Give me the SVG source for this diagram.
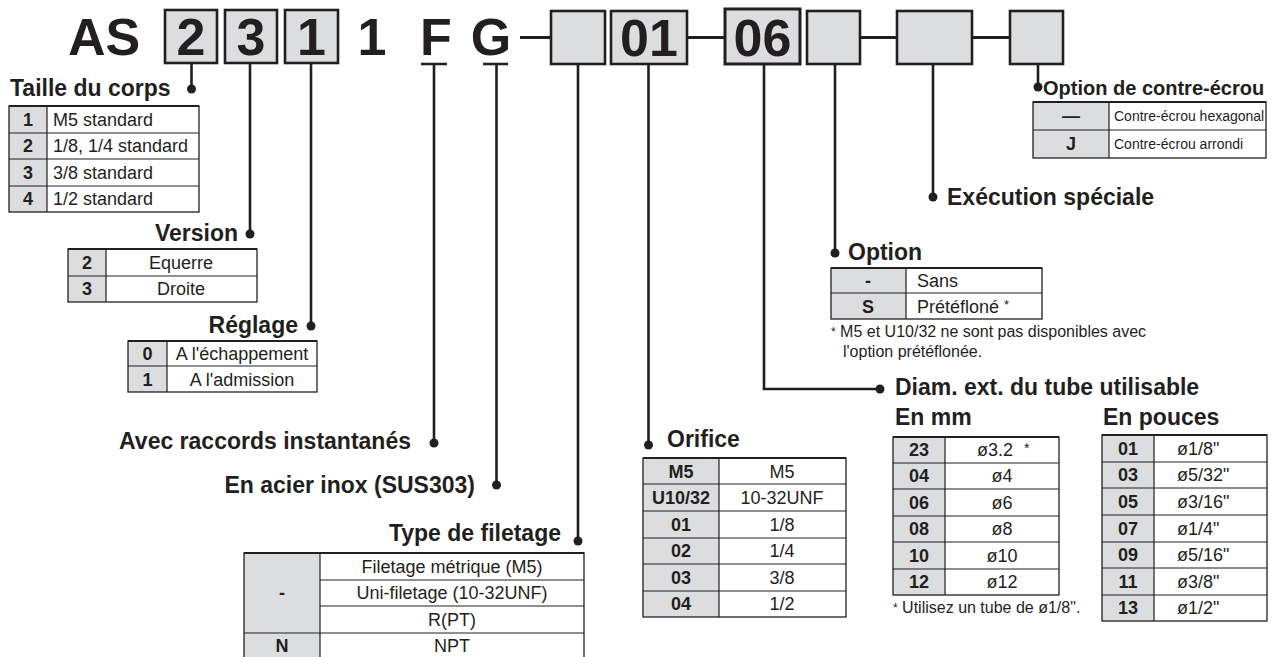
<svg xmlns="http://www.w3.org/2000/svg" width="1284" height="657" viewBox="0 0 1284 657">
<style>
text{font-family:"Liberation Sans",Arial,sans-serif;fill:#231f20}
.big{font-size:52px;font-weight:bold;text-anchor:middle}
.h{font-size:23px;font-weight:bold}
.hr{font-size:23px;font-weight:bold;text-anchor:end}
.k{font-size:18px;font-weight:bold;text-anchor:middle}
.v{font-size:18px}
.vc{font-size:18px;text-anchor:middle}
.n{font-size:16px}
.s{font-size:14px}
.box{fill:#dcdddf;stroke:#231f20;stroke-width:2.6}
.key{fill:#dcdddf;stroke:none}
.tb{fill:none;stroke:#231f20;stroke-width:1.3}
.top{stroke:#231f20;stroke-width:2.2}
.ln{stroke:#231f20;stroke-width:1.2}
.ld{fill:none;stroke:#231f20;stroke-width:2.6}
.dot{fill:#231f20}
.dash{stroke:#231f20;stroke-width:3}
</style>

<g id="code">
<text class="big" x="104" y="55">AS</text>
<text class="big" x="372" y="55">1</text>
<text class="big" x="436" y="55">F</text>
<text class="big" x="491" y="55">G</text>
<line class="dash" x1="520" y1="37.5" x2="551" y2="37.5"/>
<line class="dash" x1="687" y1="37.5" x2="725" y2="37.5"/>
<line class="dash" x1="860" y1="37.5" x2="897" y2="37.5"/>
<line class="dash" x1="972" y1="37.5" x2="1010" y2="37.5"/>
</g>
<g id="box1"><rect class="box" x="165" y="10" width="52" height="53"/><text class="big" x="191" y="55">2</text></g>
<g id="box2"><rect class="box" x="225" y="10" width="52" height="53"/><text class="big" x="251" y="55">3</text></g>
<g id="box3"><rect class="box" x="285" y="10" width="53" height="53"/><text class="big" x="311.5" y="55">1</text></g>
<g id="box4"><rect class="box" x="551" y="11" width="54" height="53"/></g>
<g id="box5"><rect class="box" x="611" y="11" width="76" height="53"/><text class="big" x="649" y="56">01</text></g>
<g id="box6"><rect class="box" x="725" y="9" width="75" height="55" style="stroke-width:3"/><text class="big" x="762.5" y="56">06</text></g>
<g id="box7"><rect class="box" x="807" y="11" width="53" height="53"/></g>
<g id="box8"><rect class="box" x="897" y="11" width="75" height="53"/></g>
<g id="box9"><rect class="box" x="1010" y="11" width="53" height="53"/></g>

<g id="connectors">
<path class="ld" d="M191.5 64V89"/><circle class="dot" cx="191.5" cy="89" r="4.5"/>
<path class="ld" d="M250 64V234"/><circle class="dot" cx="250" cy="234" r="4.5"/>
<path class="ld" d="M311 64V326"/><circle class="dot" cx="311" cy="326" r="4.5"/>
<path class="ld" d="M421 64H447M434 64V443"/><circle class="dot" cx="434" cy="443" r="4.5"/>
<path class="ld" d="M483 64H508M496.5 64V485"/><circle class="dot" cx="496.5" cy="485" r="4.5"/>
<path class="ld" d="M578 64V541"/><circle class="dot" cx="578" cy="541" r="4.5"/>
<path class="ld" d="M648.5 64V445"/><circle class="dot" cx="648.5" cy="445" r="4.5"/>
<path class="ld" d="M764 64V389H880"/><circle class="dot" cx="880" cy="389" r="4.5"/>
<path class="ld" d="M835 64V253"/><circle class="dot" cx="835" cy="253" r="4.5"/>
<path class="ld" d="M933 64V197"/><circle class="dot" cx="933" cy="197" r="4.5"/>
<path class="ld" d="M1038 64V87"/><circle class="dot" cx="1038" cy="87" r="4.5"/>
</g>

<g id="taille">
<text class="h" x="10" y="96">Taille du corps</text>
<rect class="key" x="9" y="106" width="38" height="106"/>
<rect class="tb" x="9" y="106" width="190" height="106"/>
<line class="top" x1="9" y1="106" x2="199" y2="106"/>
<path class="ln" d="M9 133H199M9 159H199M9 186H199M47 106V212"/>
<text class="k" x="28" y="125.5">1</text><text class="v" x="53" y="125.5">M5 standard</text>
<text class="k" x="28" y="152">2</text><text class="v" x="53" y="152">1/8, 1/4 standard</text>
<text class="k" x="28" y="178.5">3</text><text class="v" x="53" y="178.5">3/8 standard</text>
<text class="k" x="28" y="205">4</text><text class="v" x="53" y="205">1/2 standard</text>
</g>

<g id="version">
<text class="hr" x="238" y="241">Version</text>
<rect class="key" x="68" y="249" width="38" height="53"/>
<rect class="tb" x="68" y="249" width="189" height="53"/>
<line class="top" x1="68" y1="249" x2="257" y2="249"/>
<path class="ln" d="M68 276H257M106 249V302"/>
<text class="k" x="87" y="268.5">2</text><text class="vc" x="181" y="268.5">Equerre</text>
<text class="k" x="87" y="295">3</text><text class="vc" x="181" y="295">Droite</text>
</g>

<g id="reglage">
<text class="hr" x="298" y="333">Réglage</text>
<rect class="key" x="128" y="341" width="39" height="51"/>
<rect class="tb" x="128" y="341" width="189" height="51"/>
<line class="top" x1="128" y1="341" x2="317" y2="341"/>
<path class="ln" d="M128 366H317M167 341V392"/>
<text class="k" x="147.5" y="360">0</text><text class="vc" x="242" y="360">A l'échappement</text>
<text class="k" x="147.5" y="385.5">1</text><text class="vc" x="242" y="385.5">A l'admission</text>
</g>

<g id="raccords"><text class="hr" x="411" y="449">Avec raccords instantanés</text></g>
<g id="inox"><text class="hr" x="475" y="493">En acier inox (SUS303)</text></g>

<g id="filetage">
<text class="hr" x="561" y="541">Type de filetage</text>
<rect class="key" x="244" y="553" width="76" height="106"/>
<rect class="tb" x="244" y="553" width="340" height="106"/>
<line class="top" x1="244" y1="553" x2="584" y2="553"/>
<path class="ln" d="M320 580H584M320 606H584M244 633H584M320 553V659"/>
<text class="k" x="282" y="599">-</text>
<text class="k" x="282" y="652">N</text>
<text class="vc" x="452" y="572.5">Filetage métrique (M5)</text>
<text class="vc" x="452" y="599">Uni-filetage (10-32UNF)</text>
<text class="vc" x="452" y="625.5">R(PT)</text>
<text class="vc" x="452" y="652">NPT</text>
</g>

<g id="orifice">
<text class="h" x="667" y="447">Orifice</text>
<rect class="key" x="643" y="458" width="76" height="159"/>
<rect class="tb" x="643" y="458" width="203" height="159"/>
<line class="top" x1="643" y1="458" x2="846" y2="458"/>
<path class="ln" d="M643 484H846M643 511H846M643 538H846M643 564H846M643 591H846M719 458V617"/>
<text class="k" x="681" y="477.5">M5</text><text class="vc" x="782" y="477.5">M5</text>
<text class="k" x="681" y="503.5">U10/32</text><text class="vc" x="782" y="503.5">10-32UNF</text>
<text class="k" x="681" y="530.5">01</text><text class="vc" x="782" y="530.5">1/8</text>
<text class="k" x="681" y="557">02</text><text class="vc" x="782" y="557">1/4</text>
<text class="k" x="681" y="583.5">03</text><text class="vc" x="782" y="583.5">3/8</text>
<text class="k" x="681" y="610">04</text><text class="vc" x="782" y="610">1/2</text>
</g>

<g id="option">
<text class="h" x="848" y="260">Option</text>
<rect class="key" x="831" y="268" width="75" height="51"/>
<rect class="tb" x="831" y="268" width="211" height="51"/>
<line class="top" x1="831" y1="268" x2="1042" y2="268"/>
<path class="ln" d="M831 293H1042M906 268V319"/>
<text class="k" x="868" y="287">-</text><text class="v" x="917" y="287">Sans</text>
<text class="k" x="868" y="312.5">S</text><text class="v" x="917" y="312.5">Prétéfloné <tspan font-size="13" dy="-4">*</tspan></text>
<text class="n" x="831" y="337"><tspan font-size="12" dy="-1">*</tspan><tspan dy="1"> M5 et U10/32 ne sont pas disponibles avec</tspan></text>
<text class="n" x="843" y="357">l'option prétéflonée.</text>
</g>

<g id="diam">
<text class="h" x="895" y="395">Diam. ext. du tube utilisable</text>
<text class="h" x="895" y="425">En mm</text>
<text class="h" x="1103" y="425">En pouces</text>
<rect class="key" x="893" y="437" width="52" height="158"/>
<rect class="tb" x="893" y="437" width="166" height="158"/>
<line class="top" x1="893" y1="437" x2="1059" y2="437"/>
<path class="ln" d="M893 463H1059M893 489H1059M893 516H1059M893 542H1059M893 569H1059M945 437V595"/>
<text class="k" x="919" y="456">23</text><text class="vc" x="995" y="456">ø3.2</text><text class="s" x="1024" y="453">*</text>
<text class="k" x="919" y="482">04</text><text class="vc" x="1002" y="482">ø4</text>
<text class="k" x="919" y="508.5">06</text><text class="vc" x="1002" y="508.5">ø6</text>
<text class="k" x="919" y="535">08</text><text class="vc" x="1002" y="535">ø8</text>
<text class="k" x="919" y="561.5">10</text><text class="vc" x="1002" y="561.5">ø10</text>
<text class="k" x="919" y="588">12</text><text class="vc" x="1002" y="588">ø12</text>
<text class="n" x="893" y="613"><tspan font-size="12" dy="-1">*</tspan><tspan dy="1"> Utilisez un tube de ø1/8".</tspan></text>
<rect class="key" x="1102" y="435" width="52" height="186"/>
<rect class="tb" x="1102" y="435" width="165" height="186"/>
<line class="top" x1="1102" y1="435" x2="1267" y2="435"/>
<path class="ln" d="M1102 462H1267M1102 488H1267M1102 515H1267M1102 542H1267M1102 568H1267M1102 595H1267M1154 435V621"/>
<text class="k" x="1128" y="454.5">01</text><text class="v" x="1177" y="454.5">ø1/8"</text>
<text class="k" x="1128" y="481">03</text><text class="v" x="1177" y="481">ø5/32"</text>
<text class="k" x="1128" y="507.5">05</text><text class="v" x="1177" y="507.5">ø3/16"</text>
<text class="k" x="1128" y="534.5">07</text><text class="v" x="1177" y="534.5">ø1/4"</text>
<text class="k" x="1128" y="561">09</text><text class="v" x="1177" y="561">ø5/16"</text>
<text class="k" x="1128" y="587.5">11</text><text class="v" x="1177" y="587.5">ø3/8"</text>
<text class="k" x="1128" y="614">13</text><text class="v" x="1177" y="614">ø1/2"</text>
</g>

<g id="execution"><text class="h" x="947" y="205">Exécution spéciale</text></g>

<g id="contre-ecrou">
<text class="h" x="1043" y="95" style="font-size:20px">Option de contre-écrou</text>
<rect class="key" x="1033" y="102" width="76" height="56"/>
<rect class="tb" x="1033" y="102" width="233" height="56"/>
<line class="top" x1="1033" y1="102" x2="1266" y2="102"/>
<path class="ln" d="M1033 130H1266M1109 102V158"/>
<text class="k" x="1071" y="122">—</text><text class="s" x="1114" y="121">Contre-écrou hexagonal</text>
<text class="k" x="1071" y="150">J</text><text class="s" x="1114" y="149">Contre-écrou arrondi</text>
</g>
</svg>
